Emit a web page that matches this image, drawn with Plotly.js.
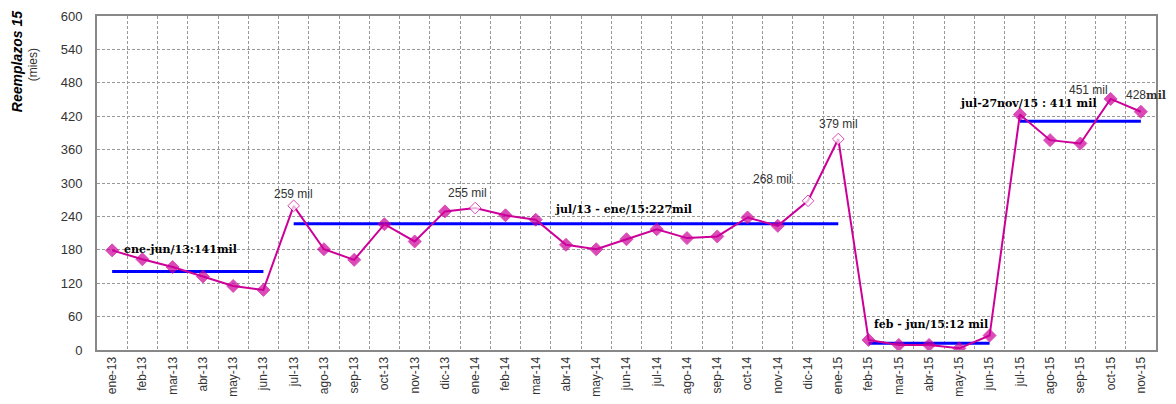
<!DOCTYPE html>
<html><head><meta charset="utf-8">
<script src="https://cdn.plot.ly/plotly-3.0.1.min.js"></script>
<style>html,body{margin:0;padding:0;background:#fff}#c{width:1176px;height:404px}</style>
</head><body><div id="c"></div>
<script>
const months = ["ene-13","feb-13","mar-13","abr-13","may-13","jun-13","jul-13","ago-13","sep-13","oct-13","nov-13","dic-13",
"ene-14","feb-14","mar-14","abr-14","may-14","jun-14","jul-14","ago-14","sep-14","oct-14","nov-14","dic-14",
"ene-15","feb-15","mar-15","abr-15","may-15","jun-15","jul-15","ago-15","sep-15","oct-15","nov-15"];
const values = [179,163,149,132,115,108,259,181,162,226,195,249,
255,242,234,189,181,199,217,201,204,238,223,268,
379,18,9,9,3,26,423,377,371,451,428];
const openMarkers = ["jul-13","ene-14","dic-14","ene-15"];
const labeled = {"jul-13":"259 mil","ene-14":"255 mil","dic-14":"268 mil","ene-15":"379 mil","oct-15":"451 mil"};
const avgStart = ["ene-13","jul-13","feb-15","jul-15"];
const avgEnd   = ["jun-13","ene-15","jun-15","nov-15"];
const avgValue = [141,227,12,411];
const avgText  = ["ene-jun/13:141mil","jul/13 - ene/15:227mil","feb - jun/15:12 mil","jul-27nov/15 : 411 mil"];

const magenta = "#cc0099";
const traces = [];
for (let i=0;i<avgValue.length;i++){
  traces.push({x:[avgStart[i],avgEnd[i]], y:[avgValue[i],avgValue[i]], type:"scatter", mode:"lines",
    line:{color:"#0000ff", width:3}, hoverinfo:"skip", showlegend:false});
}
traces.push({x:months, y:values, type:"scatter", mode:"lines+markers",
  line:{color:magenta, width:2},
  marker:{symbol:"diamond", size:months.map(m=>openMarkers.includes(m)?9:10),
    color:months.map(m=>openMarkers.includes(m)?"#ffffff":magenta),
    line:{color:magenta, width:1}},
  showlegend:false});

const annFont = {family:"Liberation Sans, Arial, sans-serif", size:12, color:"#333"};
const serif = {family:"'DejaVu Serif', serif", size:11, color:"#000"};
const labelShift = {"jul-13":[0,12],"ene-14":[-8,15],"dic-14":[-36,22],"ene-15":[0,15],"oct-15":[-22,9]};
const anns = [];
Object.keys(labeled).forEach(m=>{
  const i = months.indexOf(m);
  anns.push({x:m, y:values[i], text:labeled[m], showarrow:false, xref:"x", yref:"y",
    xshift:labelShift[m][0], yshift:labelShift[m][1], font:annFont});
});
anns.push({x:"nov-15", y:values[34], text:"428<span style=\"font-family:'DejaVu Serif',serif;font-weight:bold;font-size:11px\">mil</span>",
  showarrow:false, xshift:5, yshift:17, font:annFont});
const avgPos = [[0.33,180],[14.57,253],[25.1,45],[27.95,442]];
for (let i=0;i<avgText.length;i++){
  anns.push({x:avgPos[i][0], y:avgPos[i][1], text:"<b>"+avgText[i]+"</b>", showarrow:false, xanchor:"left",
    xref:"x", yref:"y", font:serif});
}
anns.push({xref:"paper", yref:"paper", x:-0.0755, y:0.862, xanchor:"center", yanchor:"middle",
  text:"<b><i>Reemplazos 15</i></b>", textangle:-90,
  showarrow:false, font:{family:"Liberation Sans, Arial, sans-serif", size:14, color:"#000"}});
anns.push({xref:"paper", yref:"paper", x:-0.0605, y:0.855, xanchor:"center", yanchor:"middle",
  text:"(mies)", textangle:-90,
  showarrow:false, font:{family:"Liberation Sans, Arial, sans-serif", size:12, color:"#333"}});

const layout = {
  width:1176, height:404, margin:{l:97, r:20, t:16, b:54},
  paper_bgcolor:"#fff", plot_bgcolor:"#fff",
  xaxis:{type:"category", categoryarray:months, range:[-0.5,34.5], tickson:"boundaries",
    showgrid:true, gridcolor:"#999", griddash:"3px,2px", gridwidth:1,
    showline:true, mirror:true, linecolor:"#888", linewidth:2,
    ticks:"outside", ticklen:6, tickcolor:"rgba(0,0,0,0)", tickangle:-90,
    tickfont:{family:"Liberation Sans, Arial, sans-serif", size:12, color:"#333"}, zeroline:false},
  yaxis:{range:[0,600], dtick:60, tick0:0, showgrid:true, gridcolor:"#999", griddash:"3px,2px", gridwidth:1,
    showline:true, mirror:true, linecolor:"#888", linewidth:2, zeroline:false,
    ticks:"outside", ticklen:10, tickcolor:"rgba(0,0,0,0)",
    tickfont:{family:"Liberation Sans, Arial, sans-serif", size:13, color:"#333"}},
  annotations:anns, showlegend:false
};
Plotly.newPlot("c", traces, layout, {displayModeBar:false, staticPlot:true});
</script></body></html>
